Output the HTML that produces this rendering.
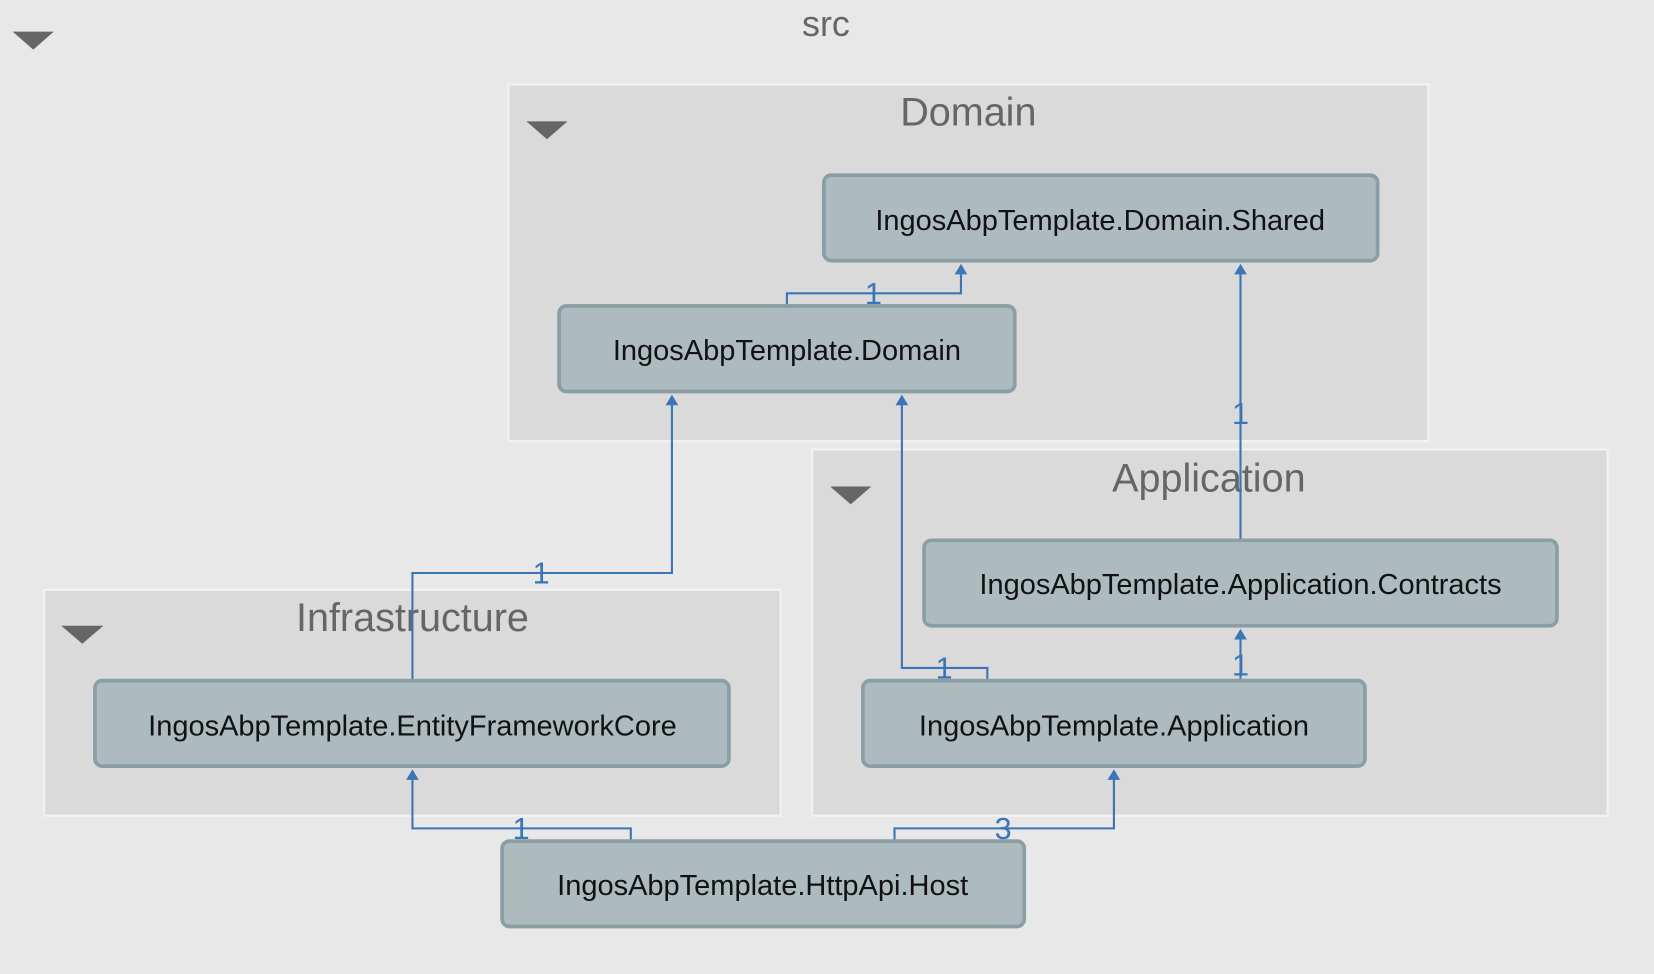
<!DOCTYPE html>
<html><head><meta charset="utf-8"><style>
html,body{margin:0;padding:0;background:#e8e8e8;overflow:hidden}
svg{display:block}
text{font-family:"Liberation Sans","DejaVu Sans",sans-serif}
</style></head><body>
<svg width="1654" height="974" viewBox="0 0 1568 923" preserveAspectRatio="none" xmlns="http://www.w3.org/2000/svg">
<rect x="0" y="0" width="1568" height="923" fill="#e8e8e8"/>
<text x="783" y="34" font-size="34" fill="#666" text-anchor="middle">src</text>
<polygon points="12,30 51,30 31.5,47" fill="#666"/>

<rect x="482" y="80" width="872" height="338" fill="#dadada" stroke="#f2f2f2" stroke-width="2"/>
<text x="918" y="119" font-size="37.5" fill="#666" text-anchor="middle">Domain</text>
<polygon points="499,115 538,115 518.5,132" fill="#666"/>

<rect x="770" y="426" width="754" height="347" fill="#dadada" stroke="#f2f2f2" stroke-width="2"/>
<text x="1146" y="466" font-size="37.5" fill="#666" text-anchor="middle">Application</text>
<polygon points="787,461 826,461 806.5,478" fill="#666"/>

<rect x="42" y="559" width="698" height="214" fill="#dadada" stroke="#f2f2f2" stroke-width="2"/>
<text x="391" y="598" font-size="37.5" fill="#666" text-anchor="middle">Infrastructure</text>
<polygon points="58,593 98,593 78,610" fill="#666"/>

<g fill="none" stroke="#3a75b8" stroke-width="2">
<polyline points="746,290 746,278 911,278 911,258"/>
<polyline points="1176,512 1176,258"/>
<polyline points="391,645 391,543 637,543 637,382"/>
<polyline points="936,645 936,633 855,633 855,382"/>
<polyline points="1176,645 1176,604"/>
<polyline points="598,797 598,785 391,785 391,737"/>
<polyline points="848,797 848,785 1056,785 1056,737"/>
</g>
<g fill="#3a75b8">
<polygon points="905,260 917,260 911,250"/>
<polygon points="1170,260 1182,260 1176,250"/>
<polygon points="631,384 643,384 637,374"/>
<polygon points="849,384 861,384 855,374"/>
<polygon points="1170,606 1182,606 1176,596"/>
<polygon points="385,739 397,739 391,729"/>
<polygon points="1050,739 1062,739 1056,729"/>
</g>
<g font-size="29" fill="#3a75b8" text-anchor="middle">
<text x="828" y="288">1</text>
<text x="1176" y="402">1</text>
<text x="513" y="553">1</text>
<text x="895" y="643">1</text>
<text x="1176" y="640">1</text>
<text x="494" y="795">1</text>
<text x="951" y="795">3</text>
</g>

<g fill="#adbbbf" stroke="#8a9ea5" stroke-width="3.5">
<rect x="781" y="166" width="525" height="81" rx="7"/>
<rect x="530" y="290" width="432" height="81" rx="7"/>
<rect x="876" y="512" width="600" height="81" rx="7"/>
<rect x="818" y="645" width="476" height="81" rx="7"/>
<rect x="90" y="645" width="601" height="81" rx="7"/>
<rect x="476" y="797" width="495" height="81" rx="7"/>
</g>
<g font-size="27.5" fill="#111" text-anchor="middle">
<text x="1043" y="218">IngosAbpTemplate.Domain.Shared</text>
<text x="746" y="341">IngosAbpTemplate.Domain</text>
<text x="1176" y="563">IngosAbpTemplate.Application.Contracts</text>
<text x="1056" y="697">IngosAbpTemplate.Application</text>
<text x="391" y="697">IngosAbpTemplate.EntityFrameworkCore</text>
<text x="723" y="848">IngosAbpTemplate.HttpApi.Host</text>
</g>
</svg>
</body></html>
